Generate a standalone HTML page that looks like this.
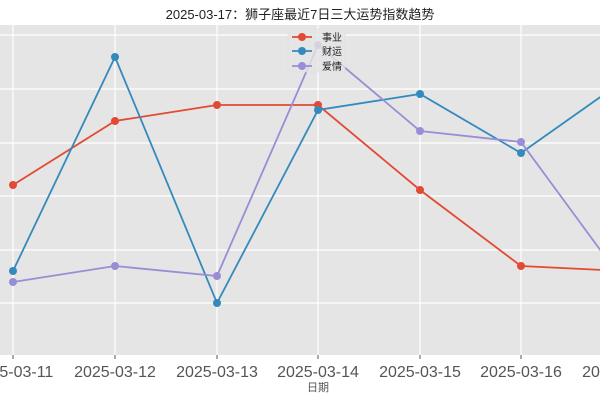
<!DOCTYPE html>
<html><head><meta charset="utf-8"><style>body{margin:0;background:#fff}svg{display:block}</style></head><body>
<svg width="600" height="400" xmlns="http://www.w3.org/2000/svg" font-family="Liberation Sans, Noto Sans CJK SC, sans-serif">
<rect x="0" y="25" width="600" height="330" fill="#E5E5E5"/>
<g stroke="#fff" stroke-width="1.2">
<line x1="0" x2="600" y1="35" y2="35"/><line x1="0" x2="600" y1="89" y2="89"/><line x1="0" x2="600" y1="143" y2="143"/><line x1="0" x2="600" y1="196" y2="196"/><line x1="0" x2="600" y1="250" y2="250"/><line x1="0" x2="600" y1="303" y2="303"/>
<line y1="25" y2="355" x1="13" x2="13"/><line y1="25" y2="355" x1="115" x2="115"/><line y1="25" y2="355" x1="217" x2="217"/><line y1="25" y2="355" x1="318" x2="318"/><line y1="25" y2="355" x1="420" x2="420"/><line y1="25" y2="355" x1="521" x2="521"/>
</g>
<g stroke="#555" stroke-width="1"><line x1="13" x2="13" y1="355" y2="359"/><line x1="115" x2="115" y1="355" y2="359"/><line x1="217" x2="217" y1="355" y2="359"/><line x1="318" x2="318" y1="355" y2="359"/><line x1="420" x2="420" y1="355" y2="359"/><line x1="521" x2="521" y1="355" y2="359"/></g>
<g fill="none" stroke-width="1.8">
<polyline stroke="#E24A33" points="13,185 115,121 217,105 318,105 420,190 521,266 623,271"/>
<polyline stroke="#348ABD" points="13,271 115,57 217,303 318,110 420,94 521,153 623,81"/>
<polyline stroke="#988ED5" points="13,282 115,266 217,276 318,45 420,131 521,142 623,281"/>
</g>
<g fill="#E24A33"><circle cx="13" cy="185" r="4"/><circle cx="115" cy="121" r="4"/><circle cx="217" cy="105" r="4"/><circle cx="318" cy="105" r="4"/><circle cx="420" cy="190" r="4"/><circle cx="521" cy="266" r="4"/></g>
<g fill="#348ABD"><circle cx="13" cy="271" r="4"/><circle cx="115" cy="57" r="4"/><circle cx="217" cy="303" r="4"/><circle cx="318" cy="110" r="4"/><circle cx="420" cy="94" r="4"/><circle cx="521" cy="153" r="4"/></g>
<g fill="#988ED5"><circle cx="13" cy="282" r="4"/><circle cx="115" cy="266" r="4"/><circle cx="217" cy="276" r="4"/><circle cx="318" cy="45" r="4"/><circle cx="420" cy="131" r="4"/><circle cx="521" cy="142" r="4"/></g>
<rect x="288" y="29" width="57" height="43" fill="#E5E5E5" fill-opacity="0.8" stroke="#ddd" stroke-width="0.5"/>
<g stroke-width="1.8"><line x1="292" x2="312" y1="37" y2="37" stroke="#E24A33"/><line x1="292" x2="312" y1="51" y2="51" stroke="#348ABD"/><line x1="292" x2="312" y1="66" y2="66" stroke="#988ED5"/></g>
<circle cx="302" cy="37" r="4" fill="#E24A33"/><circle cx="302" cy="51" r="4" fill="#348ABD"/><circle cx="302" cy="66" r="4" fill="#988ED5"/>
<g font-size="10" fill="#222"><text x="322" y="41">事业</text><text x="322" y="55">财运</text><text x="322" y="70">爱情</text></g>
<text x="300" y="19" font-size="13" text-anchor="middle" fill="#222">2025-03-17：狮子座最近7日三大运势指数趋势</text>
<g font-size="16" fill="#555" text-anchor="middle">
<text x="13" y="377">2025-03-11</text><text x="115" y="377">2025-03-12</text><text x="217" y="377">2025-03-13</text><text x="318" y="377">2025-03-14</text><text x="420" y="377">2025-03-15</text><text x="521" y="377">2025-03-16</text><text x="623" y="377">2025-03-17</text>
</g>
<text x="318" y="391" font-size="11" fill="#555" text-anchor="middle">日期</text>
</svg>
</body></html>
